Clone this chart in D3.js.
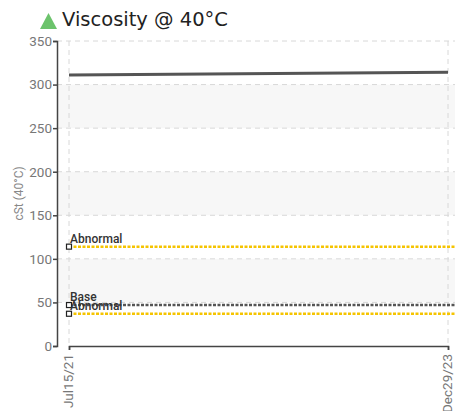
<!DOCTYPE html>
<html>
<head>
<meta charset="utf-8">
<script src="https://cdn.jsdelivr.net/npm/d3@7"></script>
<style>
  body { margin: 0; background: #fff; }
  .tick text { font-family: "Roboto", sans-serif; font-size: 13.5px; fill: #777; }
</style>
</head>
<body>
<div id="chart"></div>
<script>
// data ------------------------------------------
var dates = ["2021-07-15", "2023-12-29"];
var dateLabels = ["Jul15/21", "Dec29/23"];
var viscosity = [311, 314];
var yTicks = [0, 50, 100, 150, 200, 250, 300, 350];
var bands = [[50, 100], [150, 200], [250, 300]];
var limitNames = ["Abnormal", "Base", "Abnormal"];
var limitValues = [114, 47, 37];
var limitColors = ["#f5c400", "#555555", "#f5c400"];

// setup -----------------------------------------
var svgWidth = 457;
var svgHeight = 411;
var margin = { top: 41, right: 2, bottom: 65, left: 57 };
var width = svgWidth - margin.left - margin.right;
var height = svgHeight - margin.top - margin.bottom;

var svg = d3.select("#chart").append("svg")
  .attr("width", svgWidth)
  .attr("height", svgHeight);

var parse = d3.timeParse("%Y-%m-%d");
var xDates = dates.map(parse);

var xScale = d3.scaleTime()
  .domain(xDates)
  .range([12, 391]);
var yScale = d3.scaleLinear()
  .domain([0, 350])
  .range([height, 0]);

var g = svg.append("g")
  .attr("transform", `translate(${margin.left}, ${margin.top})`);

// bands
g.selectAll(".band").data(bands).enter().append("rect")
  .attr("x", 0)
  .attr("width", width)
  .attr("y", d => yScale(d[1]))
  .attr("height", d => yScale(d[0]) - yScale(d[1]))
  .attr("fill", "#f7f7f7");

// grid
g.selectAll(".hgrid").data(yTicks.slice(1)).enter().append("line")
  .attr("x1", 0).attr("x2", width)
  .attr("y1", d => yScale(d)).attr("y2", d => yScale(d))
  .attr("stroke", "#d8d8d8").attr("stroke-dasharray", "5,4");
g.selectAll(".vgrid").data(xDates).enter().append("line")
  .attr("x1", d => xScale(d)).attr("x2", d => xScale(d))
  .attr("y1", 0).attr("y2", height)
  .attr("stroke", "#d8d8d8").attr("stroke-dasharray", "5,4");

// axes
var yAxis = d3.axisLeft(yScale).tickValues(yTicks).tickSize(4).tickPadding(1);
var yG = g.append("g").call(yAxis);
yG.select(".domain").attr("stroke", "#444").attr("stroke-width", 1.5);
yG.selectAll(".tick line").attr("stroke", "#444").attr("stroke-width", 1.5);

var xAxis = d3.axisBottom(xScale).tickValues(xDates)
  .tickFormat((d, i) => dateLabels[i]).tickSize(4).tickPadding(3);
var xG = g.append("g").attr("transform", `translate(0, ${height})`).call(xAxis);
xG.select(".domain").attr("stroke", "#444").attr("stroke-width", 1.5);
xG.selectAll(".tick line").attr("stroke", "#444").attr("stroke-width", 1.5);
xG.selectAll(".tick text")
  .attr("transform", "rotate(-90)")
  .attr("text-anchor", "end")
  .attr("font-size", 13)
  .attr("x", -8).attr("y", -1).attr("dy", "0.35em");

// limit lines
g.selectAll(".limit").data(limitValues).enter().append("line")
  .attr("x1", xScale(xDates[0])).attr("x2", width)
  .attr("y1", d => yScale(d)).attr("y2", d => yScale(d))
  .attr("stroke", (d, i) => limitColors[i])
  .attr("stroke-width", 2.5)
  .attr("stroke-dasharray", "3,1.5");

g.selectAll(".limitMark").data(limitValues).enter().append("rect")
  .attr("x", xScale(xDates[0]) - 2.5)
  .attr("y", d => yScale(d) - 2.5)
  .attr("width", 5).attr("height", 5)
  .attr("fill", "#fff").attr("stroke", "#222").attr("stroke-width", 1.2);

g.selectAll(".limitText").data(limitValues).enter().append("text")
  .attr("x", xScale(xDates[0]) + 1)
  .attr("y", d => yScale(d) - 4)
  .text((d, i) => limitNames[i])
  .attr("font-family", "Roboto, sans-serif")
  .attr("font-size", 12)
  .attr("font-weight", 500)
  .attr("fill", "#333");

// data line
var line = d3.line()
  .x((d, i) => xScale(xDates[i]))
  .y(d => yScale(d));
g.append("path")
  .datum(viscosity)
  .attr("d", line)
  .attr("fill", "none")
  .attr("stroke", "#555")
  .attr("stroke-width", 3);

// y label
svg.append("text")
  .attr("transform", `translate(23, ${margin.top + height / 2}) rotate(-90)`)
  .attr("text-anchor", "middle")
  .attr("font-family", "Roboto, sans-serif")
  .attr("font-size", 12)
  .attr("fill", "#888")
  .text("cSt (40°C)");

// title
svg.append("path")
  .attr("d", "M40,29 L48.5,13 L57,29 Z")
  .attr("fill", "#6cc36c");
svg.append("text")
  .attr("x", 62).attr("y", 26)
  .attr("font-family", "'DejaVu Sans', sans-serif")
  .attr("font-size", 19.5)
  .attr("fill", "#222")
  .text("Viscosity @ 40°C");
</script>
</body>
</html>
